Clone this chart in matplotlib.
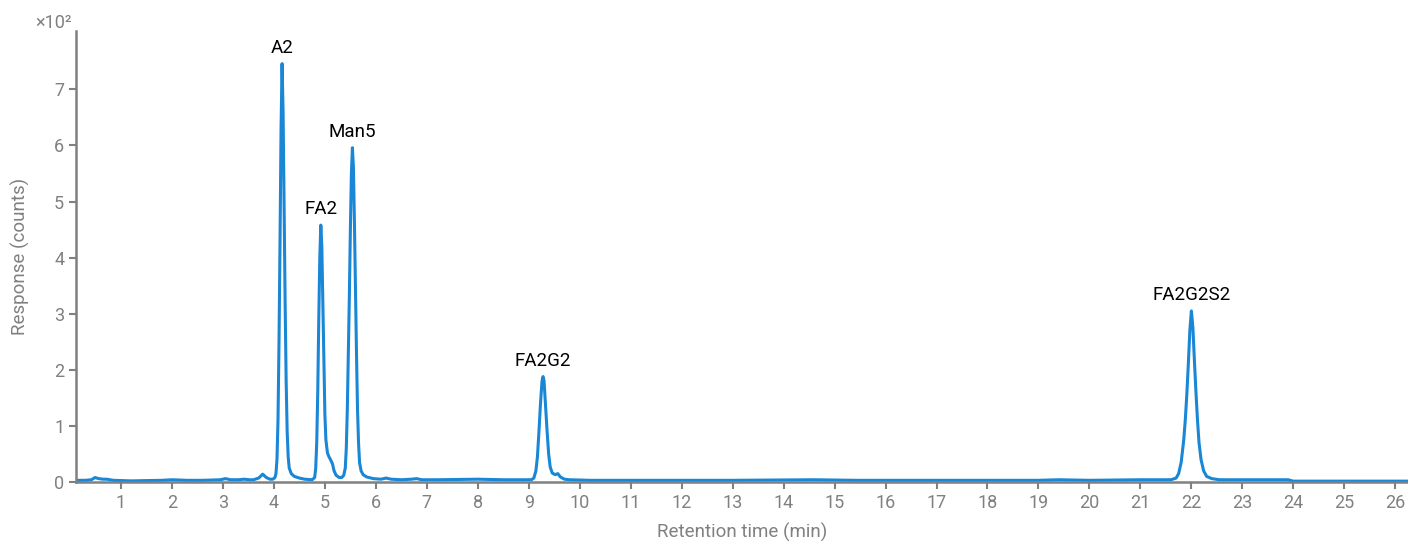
import matplotlib.pyplot as plt

plt.rcParams['font.family'] = ['Roboto', 'DejaVu Sans']

# retention time (min) and response (x10^2 counts)
times = [0.12, 0.30, 0.42, 0.49, 0.56, 0.65, 0.72, 0.85, 1.2, 1.8, 2.0, 2.3, 2.6, 2.95, 3.05, 3.15, 3.3, 3.42, 3.52,
         3.60, 3.70, 3.78, 3.85, 3.92, 3.98,
         4.02, 4.04, 4.06, 4.08, 4.10, 4.12, 4.14, 4.16, 4.18, 4.20, 4.22, 4.24, 4.26, 4.28, 4.30, 4.34, 4.40, 4.50, 4.60, 4.75,
         4.80, 4.82, 4.84, 4.86, 4.88, 4.90, 4.92, 4.94, 4.96, 4.98, 5.00, 5.02, 5.05, 5.08, 5.11, 5.15, 5.18, 5.22, 5.28, 5.33,
         5.37, 5.40, 5.42, 5.44, 5.46, 5.48, 5.50, 5.52, 5.54, 5.56, 5.58, 5.60, 5.62, 5.64, 5.66, 5.68, 5.71, 5.75, 5.82,
         5.95, 6.10, 6.20, 6.30, 6.50, 6.70, 6.80, 6.90, 7.20, 8.00, 8.50, 9.00,
         9.05, 9.10, 9.14, 9.17, 9.20, 9.23, 9.26, 9.28, 9.30, 9.33, 9.36, 9.39, 9.42, 9.46, 9.52, 9.57, 9.62, 9.70, 9.80,
         10.2, 11.0, 12.0, 13.0, 14.6, 15.4, 17.0, 19.0, 19.4, 20.0, 21.0, 21.60,
         21.70, 21.75, 21.80, 21.85, 21.88, 21.91, 21.94, 21.97, 22.00, 22.03, 22.06, 22.09, 22.12, 22.15, 22.19, 22.24,
         22.30, 22.40, 22.55, 23.0, 23.90, 24.0, 25.0, 26.25]
response = [0.03, 0.03, 0.04, 0.08, 0.06, 0.05, 0.05, 0.03, 0.02, 0.03, 0.04, 0.03, 0.03, 0.04, 0.06, 0.04, 0.04, 0.05, 0.04,
            0.04, 0.07, 0.14, 0.08, 0.05, 0.05,
            0.08, 0.15, 0.40, 1.10, 2.50, 4.30, 6.30, 7.46, 6.60, 4.90, 3.20, 1.80, 0.90, 0.45, 0.25, 0.15, 0.10, 0.07, 0.05, 0.04,
            0.08, 0.25, 0.70, 1.60, 2.90, 4.00, 4.58, 4.20, 3.20, 2.10, 1.20, 0.75, 0.52, 0.45, 0.40, 0.32, 0.20, 0.12, 0.08, 0.08,
            0.12, 0.25, 0.60, 1.30, 2.30, 3.30, 4.50, 5.50, 5.96, 5.60, 4.60, 3.40, 2.30, 1.30, 0.70, 0.35, 0.20, 0.13, 0.09,
            0.06, 0.05, 0.07, 0.05, 0.04, 0.05, 0.06, 0.04, 0.04, 0.05, 0.04, 0.04,
            0.04, 0.07, 0.20, 0.45, 0.90, 1.40, 1.80, 1.88, 1.80, 1.35, 0.90, 0.50, 0.27, 0.16, 0.13, 0.15, 0.09, 0.05, 0.04,
            0.03, 0.03, 0.03, 0.03, 0.04, 0.03, 0.03, 0.03, 0.04, 0.03, 0.04, 0.04,
            0.07, 0.15, 0.35, 0.75, 1.10, 1.55, 2.10, 2.70, 3.05, 2.75, 2.15, 1.60, 1.10, 0.70, 0.40, 0.20,
            0.10, 0.06, 0.04, 0.04, 0.04, 0.015, 0.015, 0.015]

peak_names = ['A2', 'FA2', 'Man5', 'FA2G2', 'FA2G2S2']
peak_times = [4.16, 4.92, 5.54, 9.28, 22.00]
peak_heights = [7.46, 4.58, 5.96, 1.88, 3.05]

grey = '#808080'

fig = plt.figure(figsize=(14.08, 5.43), dpi=100)
ax = fig.add_axes([76/1408, 61/543, 1 - 76/1408, (481.5 - 30)/543])
ax.plot(times, response, color='#1a86d6', lw=2.2, solid_joinstyle='round')

for name, t, h in zip(peak_names, peak_times, peak_heights):
    ax.annotate(name, xy=(t, h), xytext=(0, 5), textcoords='offset points',
                ha='center', va='bottom', fontsize=13.5, color='black')

ax.set_xlim(0.117, 26.25)
ax.set_ylim(0, 8.05)
ax.set_xticks(range(1, 27))
ax.set_yticks(range(0, 8))

for side in ['top', 'right']:
    ax.spines[side].set_visible(False)
for side in ['left', 'bottom']:
    ax.spines[side].set_color(grey)
    ax.spines[side].set_linewidth(1.8)
ax.tick_params(colors=grey, labelcolor=grey, labelsize=13, length=5, width=1.5, direction='out')

ax.set_xlabel('Retention time (min)', fontsize=13.5, color=grey, labelpad=8)
ax.set_ylabel('Response (counts)', fontsize=13.5, color=grey, labelpad=17)
fig.text(72/1408, 1 - 28/543, '×10²', ha='right', va='baseline', fontsize=13, color=grey)

plt.savefig('out.png', dpi=100)
